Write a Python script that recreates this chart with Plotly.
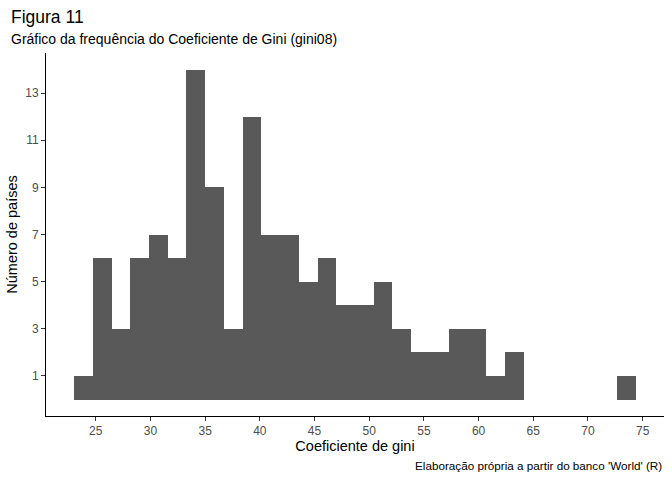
import numpy as np
import plotly.graph_objects as go

# Histogram counts (30 bins) of gini08
counts = [1, 6, 3, 6, 7, 6, 14, 9, 3, 12, 7, 7, 5, 6, 4,
          4, 5, 3, 2, 2, 3, 3, 1, 2, 0, 0, 0, 0, 0, 1]
bin_start = 23.02
bin_width = 1.712
centers = bin_start + bin_width * (np.arange(len(counts)) + 0.5)

x_ticks = [25, 30, 35, 40, 45, 50, 55, 60, 65, 70, 75]
y_ticks = [1, 3, 5, 7, 9, 11, 13]

fig = go.Figure(go.Bar(x=centers, y=counts, width=bin_width,
                       marker_color="#595959", marker_line_width=0))

font = "Liberation Sans, Arial, sans-serif"
fig.update_layout(
    width=672, height=480,
    plot_bgcolor="white", paper_bgcolor="white",
    margin=dict(l=46, r=8, t=53, b=64, autoexpand=False),
    font=dict(family=font, color="black"),
    showlegend=False, bargap=0,
)
fig.update_xaxes(range=[20.45, 76.95], tickvals=x_ticks, showgrid=False, zeroline=False,
                 showline=True, linecolor="black", linewidth=1, automargin=False,
                 ticks="outside", ticklen=4, tickcolor="#333333",
                 tickfont=dict(size=12, color="#4D4D4D"),
                 title=dict(text="Coeficiente de gini", font=dict(size=14.5), standoff=3))
fig.update_yaxes(range=[-0.7, 14.7], tickvals=y_ticks, showgrid=False, zeroline=False,
                 showline=True, linecolor="black", linewidth=1, automargin=False,
                 ticks="outside", ticklen=4, tickcolor="#333333",
                 tickfont=dict(size=12, color="#4D4D4D"),
                 title=dict(text="Número de países", font=dict(size=14.5), standoff=4))

# title, subtitle and caption placed relative to the plot area
fig.add_annotation(text="Figura 11", xref="paper", yref="paper",
                   x=-37 / 618, y=1 + 48 / 363, xanchor="left", yanchor="top",
                   showarrow=False, font=dict(size=17.5))
fig.add_annotation(text="Gráfico da frequência do Coeficiente de Gini (gini08)",
                   xref="paper", yref="paper",
                   x=-37 / 618, y=1 + 24 / 363, xanchor="left", yanchor="top",
                   showarrow=False, font=dict(size=14))
fig.add_annotation(text="Elaboração própria a partir do banco 'World' (R)",
                   xref="paper", yref="paper",
                   x=1, y=-58 / 363, xanchor="right", yanchor="bottom",
                   showarrow=False, font=dict(size=11.7))

# remove the browser's default body margin so the figure fills the window
fig.write_html("out.html", config={"displayModeBar": False},
               post_script="document.body.style.margin='0px';")
